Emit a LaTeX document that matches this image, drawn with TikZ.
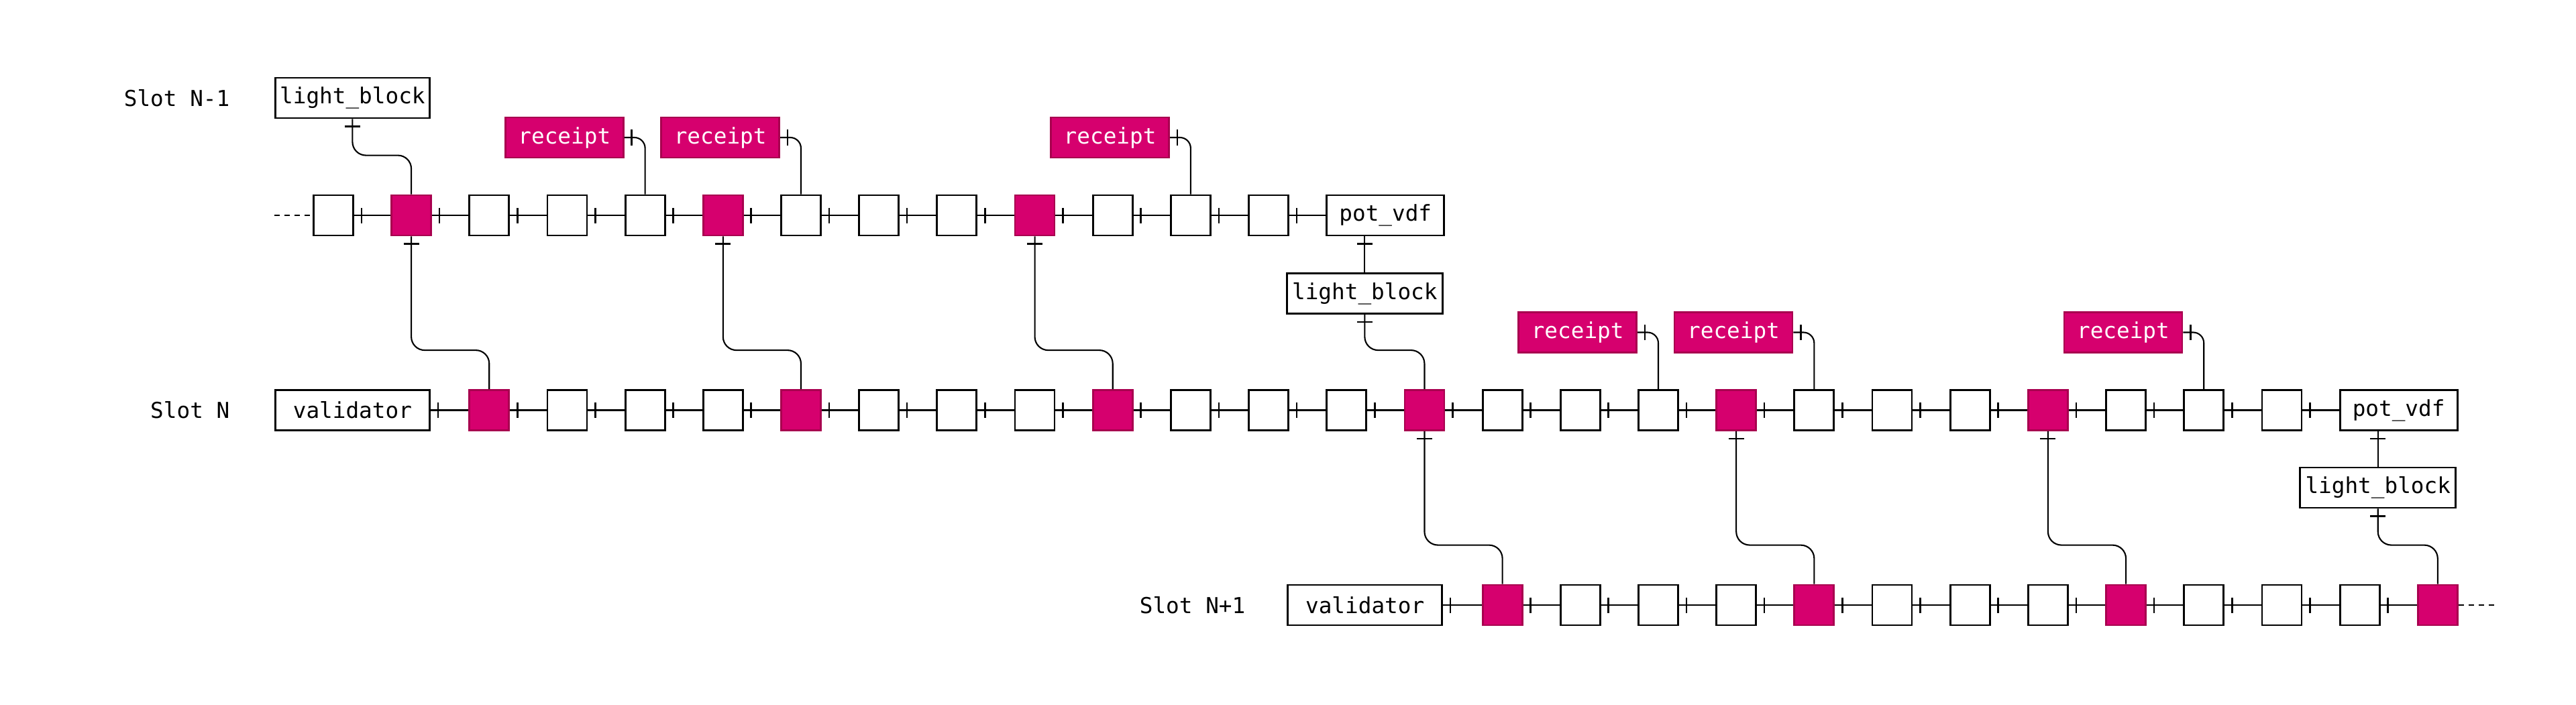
\documentclass[tikz,border=0pt]{standalone}
\usepackage{fontspec}
\setmonofont{DejaVu Sans Mono}
\usepackage{xcolor}
\usepackage{tikz}
\usetikzlibrary{calc, decorations.markings}
\definecolor{blockPink}{HTML}{D6006E}
\definecolor{blockPinkEdge}{HTML}{A8004F}
\tikzset{
    box_plain/.style={
        rectangle, draw=black, line width=0.8pt, fill=white,
        minimum width=0.59cm, minimum height=0.6cm, inner sep=0pt, anchor=west
    },
    box_pink/.style={
        box_plain, draw=blockPinkEdge, fill=blockPink
    },
    box_named/.style={
        rectangle, draw=black, line width=0.8pt, fill=white,
        minimum height=0.6cm, inner sep=0pt,
        font=\ttfamily\fontsize{9.3}{11}\selectfont
    },
    box_receipt/.style={
        box_named, draw=blockPinkEdge, fill=blockPink, text=white,
        minimum width=1.76cm, anchor=east
    },
    slot_lbl/.style={
        font=\ttfamily\fontsize{9.3}{11}\selectfont, anchor=east, inner sep=0pt
    },
    link_line/.style={
        draw=black, line width=0.6pt
    },
    one_tick/.style={
        link_line, postaction={decorate, decoration={markings,
            mark=at position 0.11cm with {\draw[line width=0.75pt] (0,-0.115) -- (0,0.115);}}}
    },
    bend_link/.style={
        one_tick, rounded corners=0.2cm
    },
    tail_dash/.style={
        link_line, dash pattern=on 0.08cm off 0.07cm
    }
}
\def\gridX{4.66}
\def\pitch{1.1618}
\def\rowA{-3.21}
\def\rowB{-6.115}
\def\rowC{-9.02}

\begin{document}
\begin{tikzpicture}
    \useasboundingbox (0,0) rectangle (38.4,-10.51);

    % Slot labels
    \node[slot_lbl] (slotA) at (3.43, -1.46) {Slot N-1};
    \node[slot_lbl] (slotB) at (3.43, \rowB) {Slot N};
    \node[slot_lbl] (slotC) at (18.57, \rowC) {Slot N+1};

    % Slot N-1 chain
    \coordinate (startA) at (4.09, \rowA);
    \foreach \k in {0,...,12} {
        \pgfmathtruncatemacro{\m}{mod(\k,4)}
        \ifnum\m=1 \node[box_pink] (a\k) at ({\gridX+\k*\pitch}, \rowA) {};
        \else \node[box_plain] (a\k) at ({\gridX+\k*\pitch}, \rowA) {}; \fi
    }
    \node[box_named, minimum width=1.75cm, anchor=west] (potA) at ({\gridX+13*\pitch}, \rowA) {pot\_vdf};
    \node[box_named, minimum width=2.30cm, anchor=west] (lbA) at (4.09, -1.46) {light\_block};
    \node[box_named, minimum width=2.32cm] (lbB) at ({\gridX+13*\pitch+0.58}, -4.375) {light\_block};
    \foreach \k in {4,6,11}
        \node[box_receipt] (rcA\k) at ({\gridX+\k*\pitch}, \rowA+1.16) {receipt};

    % Slot N chain
    \node[box_named, minimum width=2.30cm, anchor=west] (valB) at (4.09, \rowB) {validator};
    \foreach \k in {2,...,25} {
        \pgfmathtruncatemacro{\m}{mod(\k,4)}
        \ifnum\m=2 \node[box_pink] (b\k) at ({\gridX+\k*\pitch}, \rowB) {};
        \else \node[box_plain] (b\k) at ({\gridX+\k*\pitch}, \rowB) {}; \fi
    }
    \node[box_named, minimum width=1.75cm, anchor=west] (potB) at ({\gridX+26*\pitch}, \rowB) {pot\_vdf};
    \node[box_named, minimum width=2.32cm] (lbC) at ({\gridX+26*\pitch+0.58}, -7.27) {light\_block};
    \foreach \k in {17,19,24}
        \node[box_receipt] (rcB\k) at ({\gridX+\k*\pitch}, \rowB+1.16) {receipt};

    % Slot N+1 chain
    \node[box_named, minimum width=2.30cm, anchor=west] (valC) at ({\gridX+12.5*\pitch}, \rowC) {validator};
    \foreach \k in {15,...,27} {
        \pgfmathtruncatemacro{\m}{mod(\k,4)}
        \ifnum\m=3 \node[box_pink] (c\k) at ({\gridX+\k*\pitch}, \rowC) {};
        \else \node[box_plain] (c\k) at ({\gridX+\k*\pitch}, \rowC) {}; \fi
    }
    \coordinate (endC) at (37.22, \rowC);

    % Horizontal links
    \draw[tail_dash] (startA) -- (a0.west);
    \foreach \k [evaluate=\k as \j using int(\k+1)] in {0,...,11}
        \draw[one_tick] (a\k.east) -- (a\j.west);
    \draw[one_tick] (a12.east) -- (potA.west);

    \draw[one_tick] (valB.east) -- (b2.west);
    \foreach \k [evaluate=\k as \j using int(\k+1)] in {2,...,24}
        \draw[one_tick] (b\k.east) -- (b\j.west);
    \draw[one_tick] (b25.east) -- (potB.west);

    \draw[one_tick] (valC.east) -- (c15.west);
    \foreach \k [evaluate=\k as \j using int(\k+1)] in {15,...,26}
        \draw[one_tick] (c\k.east) -- (c\j.west);
    \draw[tail_dash] (c27.east) -- (endC);

    % Receipts
    \foreach \k in {4,6,11}
        \draw[one_tick, rounded corners=0.16cm] (rcA\k.east) -| (a\k.north);
    \foreach \k in {17,19,24}
        \draw[one_tick, rounded corners=0.16cm] (rcB\k.east) -| (b\k.north);

    % Links between slots
    \draw[bend_link] (lbA.south) |- ($(a1.north)+(0,0.58)$) -- (a1.north);
    \foreach \s/\t in {1/2, 5/6, 9/10}
        \draw[bend_link] (a\s.south) |- ($(b\t.north)+(0,0.58)$) -- (b\t.north);
    \draw[one_tick] (lbB.north |- potA.south) -- (lbB.north);
    \draw[bend_link] (lbB.south) |- ($(b14.north)+(0,0.58)$) -- (b14.north);
    \foreach \s/\t in {14/15, 18/19, 22/23}
        \draw[bend_link] (b\s.south) |- ($(c\t.north)+(0,0.58)$) -- (c\t.north);
    \draw[one_tick] (lbC.north |- potB.south) -- (lbC.north);
    \draw[bend_link] (lbC.south) |- ($(c27.north)+(0,0.58)$) -- (c27.north);
\end{tikzpicture}
\end{document}
